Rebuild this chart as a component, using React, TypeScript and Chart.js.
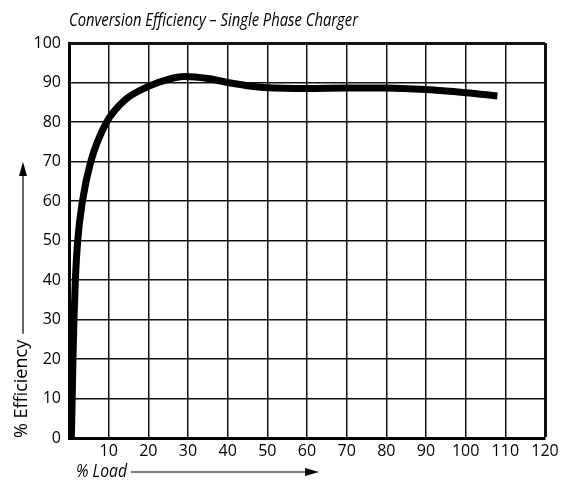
import React, { useEffect, useRef } from "react";
import { Chart, registerables } from "chart.js";

Chart.register(...registerables);

const TITLE = "Conversion Efficiency – Single Phase Charger";
const X_TITLE = "% Load";
const Y_TITLE = "% Efficiency";

const loadPct = [0.6, 0.8, 1.0, 1.25, 1.6, 2.2, 3.4, 5.5, 9.5, 14, 20, 25, 29, 35, 40, 45, 50, 60, 70, 80, 90, 100, 108];
const efficiencyPct = [0, 10, 20, 30, 40, 50, 60, 70, 80, 85.5, 89, 90.8, 91.5, 91, 90, 89.2, 88.7, 88.5, 88.6, 88.6, 88.2, 87.4, 86.6];

const X_MIN = 0;
const X_MAX = 120;
const X_STEP = 10;
const Y_MIN = 0;
const Y_MAX = 100;
const Y_STEP = 10;

const FONT = '"Open Sans", "Liberation Sans", sans-serif';

const decorPlugin = {
  id: "decor",
  afterDraw(chart: any) {
    const ctx = chart.ctx;
    const area = chart.chartArea;
    ctx.save();
    ctx.fillStyle = "#000";
    ctx.strokeStyle = "#000";

    // Title (condensed italic look)
    ctx.font = `italic 18px ${FONT}`;
    ctx.textAlign = "left";
    ctx.textBaseline = "alphabetic";
    ctx.fillText(TITLE, area.left, 26, 289);

    // Y axis title with arrow
    ctx.save();
    ctx.translate(22, area.bottom);
    ctx.rotate(-Math.PI / 2);
    ctx.font = `18px ${FONT}`;
    ctx.textAlign = "left";
    ctx.textBaseline = "middle";
    const yw = Math.min(ctx.measureText(Y_TITLE).width, 100);
    ctx.fillText(Y_TITLE, 0, 0, 100);
    ctx.restore();
    const yx = 23;
    const yStart = area.bottom - yw - 6;
    const yTip = 162;
    ctx.lineWidth = 1.2;
    ctx.beginPath();
    ctx.moveTo(yx, yStart);
    ctx.lineTo(yx, yTip + 10);
    ctx.stroke();
    ctx.beginPath();
    ctx.moveTo(yx, yTip);
    ctx.lineTo(yx - 4, yTip + 14);
    ctx.lineTo(yx + 4, yTip + 14);
    ctx.closePath();
    ctx.fill();

    // X axis title with arrow
    ctx.font = `italic 18px ${FONT}`;
    ctx.textAlign = "left";
    ctx.textBaseline = "middle";
    const xTextX = 76;
    const xy = 472;
    const xw = Math.min(ctx.measureText(X_TITLE).width, 51);
    ctx.fillText(X_TITLE, xTextX, xy, 51);
    const xStart = xTextX + xw + 4;
    const xTip = 319;
    ctx.beginPath();
    ctx.moveTo(xStart, xy);
    ctx.lineTo(xTip - 10, xy);
    ctx.stroke();
    ctx.beginPath();
    ctx.moveTo(xTip, xy);
    ctx.lineTo(xTip - 14, xy - 4);
    ctx.lineTo(xTip - 14, xy + 4);
    ctx.closePath();
    ctx.fill();
    ctx.restore();
  },
};

export default function App() {
  const ref = useRef<HTMLCanvasElement | null>(null);
  useEffect(() => {
    if (!ref.current) return;
    const chart = new Chart(ref.current, {
      type: "line",
      data: {
        datasets: [
          {
            data: loadPct.map((x, i) => ({ x, y: efficiencyPct[i] })),
            borderColor: "#000",
            borderWidth: 7,
            pointRadius: 0,
            cubicInterpolationMode: "monotone",
            fill: false,
          },
        ],
      },
      options: {
        responsive: false,
        animation: false,
        layout: { padding: { left: 0, top: 43, right: 19, bottom: 0 } },
        plugins: { legend: { display: false }, tooltip: { enabled: false }, title: { display: false } },
        scales: {
          x: {
            type: "linear",
            min: X_MIN,
            max: X_MAX,
            afterFit: (s: any) => { s.height = 45; },
            ticks: {
              stepSize: X_STEP,
              color: "#000",
              padding: 4,
              font: { family: FONT, size: 16 },
              maxRotation: 0,
              callback: (v: any) => (v === 0 ? "" : String(v)),
            },
            grid: {
              color: "#111",
              lineWidth: (c: any) => (c.tick && c.tick.value === X_MAX ? 3 : 1.5),
              drawTicks: false,
            },
            border: { display: true, color: "#000", width: 3 },
          },
          y: {
            type: "linear",
            min: Y_MIN,
            max: Y_MAX,
            afterFit: (s: any) => { s.width = 69; },
            ticks: {
              stepSize: Y_STEP,
              color: "#000",
              padding: 8,
              font: { family: FONT, size: 16 },
            },
            grid: {
              color: "#111",
              lineWidth: (c: any) => (c.tick && c.tick.value === Y_MAX ? 3 : 1.5),
              drawTicks: false,
            },
            border: { display: true, color: "#000", width: 3 },
          },
        },
      },
      plugins: [decorPlugin],
    });
    return () => chart.destroy();
  }, []);
  return (
    <div style={{ position: "fixed", left: 0, top: 0, width: 564, height: 483, background: "#fff" }}>
      <canvas ref={ref} width={564} height={483} />
    </div>
  );
}
